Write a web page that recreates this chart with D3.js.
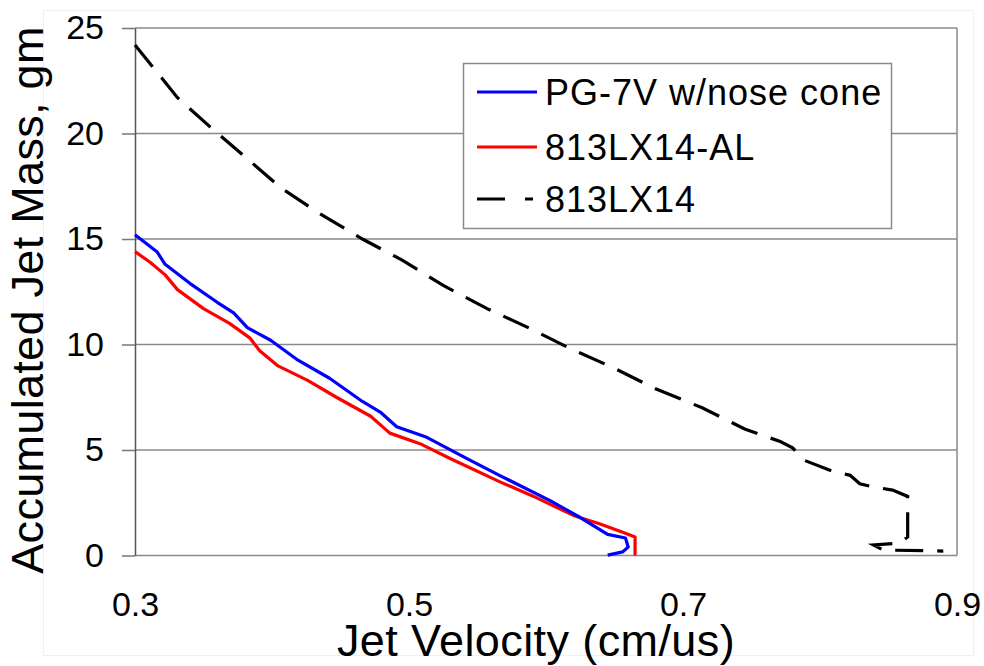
<!DOCTYPE html>
<html lang="en">
<head>
    <meta charset="UTF-8">
    <title>Accumulated Jet Mass vs Jet Velocity</title>
    <script src="https://d3js.org/d3.v7.min.js"></script>
    <style>
        body {
            margin: 0;
            background: #fff;
            font-family: Arial, "Liberation Sans", sans-serif;
        }
        svg text {
            fill: #000;
        }
    </style>
</head>
<body>
    <div id="chart"></div>

    <script>
        // [velocity cm/us, accumulated mass gm]
        const pg7v = [
            [0.300, 15.2], [0.316, 14.4], [0.322, 13.8], [0.340, 12.9], [0.360, 12.0],
            [0.372, 11.5], [0.382, 10.8], [0.399, 10.2], [0.418, 9.3], [0.442, 8.4],
            [0.466, 7.3], [0.479, 6.8], [0.491, 6.1], [0.513, 5.6], [0.542, 4.6],
            [0.566, 3.8], [0.603, 2.6], [0.625, 1.8], [0.645, 1.0], [0.658, 0.83],
            [0.660, 0.4], [0.656, 0.17], [0.645, 0.02]
        ];
        const lx14al = [
            [0.300, 14.4], [0.311, 13.9], [0.322, 13.3], [0.331, 12.6], [0.350, 11.7],
            [0.369, 11.0], [0.384, 10.3], [0.391, 9.7], [0.404, 9.0], [0.426, 8.3],
            [0.447, 7.5], [0.472, 6.6], [0.486, 5.8], [0.508, 5.3], [0.530, 4.6],
            [0.566, 3.5], [0.591, 2.8], [0.620, 1.9], [0.639, 1.5], [0.656, 1.1],
            [0.665, 0.88], [0.665, 0.0]
        ];
        const lx14 = [
            [0.300, 24.2], [0.331, 21.7], [0.355, 20.3], [0.382, 18.8], [0.407, 17.4],
            [0.435, 16.2], [0.466, 15.0], [0.495, 14.0], [0.525, 12.8], [0.557, 11.7],
            [0.587, 10.8], [0.618, 9.8], [0.649, 8.9], [0.680, 7.9], [0.714, 7.0],
            [0.745, 6.0], [0.771, 5.4], [0.780, 5.1], [0.789, 4.5], [0.809, 4.0],
            [0.822, 3.8], [0.829, 3.4], [0.839, 3.25], [0.853, 3.1], [0.864, 2.8],
            [0.864, 2.25], [0.864, 1.35], [0.864, 0.88], [0.858, 0.59], [0.839, 0.5],
            [0.846, 0.26], [0.890, 0.21]
        ];

        const seriesNames = ["PG-7V w/nose cone", "813LX14-AL", "813LX14"];
        const seriesColors = ["#0000ff", "#ff0000", "#000000"];
        const xTicks = [0.3, 0.5, 0.7, 0.9];
        const yTicks = [0, 5, 10, 15, 20, 25];

        const width = 984, height = 666;
        const plot = { left: 135, right: 957, top: 28, bottom: 555.5 };

        const svg = d3.select("#chart")
            .append("svg")
            .attr("width", width)
            .attr("height", height)
            .attr("font-family", "Arial, 'Liberation Sans', sans-serif");

        // faint outer chart border
        svg.append("rect")
            .attr("x", 43.5).attr("y", 10.5)
            .attr("width", 930).attr("height", 645)
            .attr("fill", "none")
            .attr("stroke", "#f0f0f0");

        const x = d3.scaleLinear().domain([0.3, 0.9]).range([plot.left, plot.right]);
        const y = d3.scaleLinear().domain([0, 25]).range([plot.bottom, plot.top]);

        // horizontal grid lines
        svg.append("g")
            .selectAll("line")
            .data(yTicks.slice(1))
            .join("line")
            .attr("x1", plot.left).attr("x2", plot.right)
            .attr("y1", d => y(d)).attr("y2", d => y(d))
            .attr("stroke", "#8a8a8a")
            .attr("stroke-width", 1.5);

        // right border and bottom line
        svg.append("line")
            .attr("x1", plot.right).attr("x2", plot.right)
            .attr("y1", plot.top).attr("y2", plot.bottom)
            .attr("stroke", "#8a8a8a").attr("stroke-width", 1.5);
        svg.append("line")
            .attr("x1", plot.left).attr("x2", plot.right)
            .attr("y1", plot.bottom).attr("y2", plot.bottom)
            .attr("stroke", "#8a8a8a").attr("stroke-width", 1.5);

        // y axis
        const yAxis = svg.append("g")
            .attr("transform", `translate(${plot.left},0)`)
            .call(d3.axisLeft(y).tickValues(yTicks).tickSize(13).tickSizeOuter(0).tickPadding(18));
        yAxis.select(".domain").attr("stroke", "#555").attr("stroke-width", 1.5);
        yAxis.selectAll(".tick line").attr("stroke", "#777").attr("stroke-width", 1.5);
        yAxis.selectAll("text")
            .attr("font-size", 34)
            .attr("font-family", "Arial, 'Liberation Sans', sans-serif")
            .attr("fill", "#000");

        // x axis labels, no tick marks
        const xAxis = svg.append("g")
            .attr("transform", `translate(0,${plot.bottom})`)
            .call(d3.axisBottom(x).tickValues(xTicks).tickSize(0).tickPadding(36).tickFormat(d3.format(".1f")));
        xAxis.select(".domain").remove();
        xAxis.selectAll("text")
            .attr("font-size", 34)
            .attr("font-family", "Arial, 'Liberation Sans', sans-serif")
            .attr("fill", "#000");

        // axis titles
        svg.append("text")
            .attr("x", 536).attr("y", 656)
            .attr("text-anchor", "middle")
            .attr("font-size", 45)
            .attr("letter-spacing", 0.4)
            .text("Jet Velocity (cm/us)");
        svg.append("text")
            .attr("transform", `translate(43,${300}) rotate(-90)`)
            .attr("text-anchor", "middle")
            .attr("font-size", 45)
            .attr("letter-spacing", 0.3)
            .text("Accumulated Jet Mass, gm");

        // series lines
        const line = d3.line().x(d => x(d[0])).y(d => y(d[1]));

        svg.append("path")
            .datum(lx14)
            .attr("d", line)
            .attr("fill", "none")
            .attr("stroke", seriesColors[2])
            .attr("stroke-width", 3.2)
            .attr("stroke-dasharray", "28,14");
        svg.append("path")
            .datum(lx14al)
            .attr("d", line)
            .attr("fill", "none")
            .attr("stroke", seriesColors[1])
            .attr("stroke-width", 3.2)
            .attr("stroke-linejoin", "round");
        svg.append("path")
            .datum(pg7v)
            .attr("d", line)
            .attr("fill", "none")
            .attr("stroke", seriesColors[0])
            .attr("stroke-width", 3.2)
            .attr("stroke-linejoin", "round");

        // legend
        const legend = svg.append("g").attr("transform", "translate(463,63)");
        legend.append("rect")
            .attr("x", 0.5).attr("y", 0.5)
            .attr("width", 428).attr("height", 165)
            .attr("fill", "#fff")
            .attr("stroke", "#8a8a8a")
            .attr("stroke-width", 1.5);
        const rowY = [29, 84, 136];
        seriesNames.forEach((name, i) => {
            legend.append("line")
                .attr("x1", 14).attr("x2", i === 2 ? 70 : 74)
                .attr("y1", rowY[i]).attr("y2", rowY[i])
                .attr("stroke", seriesColors[i])
                .attr("stroke-width", 3.2)
                .attr("stroke-dasharray", i === 2 ? "28,20" : null);
            legend.append("text")
                .attr("x", 82).attr("y", rowY[i] + 13)
                .attr("font-size", 36)
                .attr("letter-spacing", 1)
                .text(name);
        });
    </script>
</body>
</html>
